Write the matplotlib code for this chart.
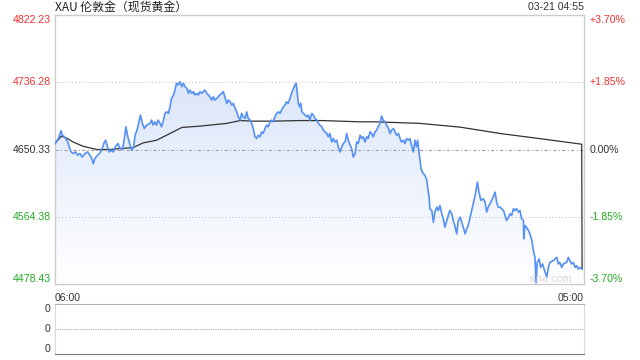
import numpy as np
import matplotlib
matplotlib.use("Agg")
import matplotlib.pyplot as plt
from matplotlib.colors import LinearSegmentedColormap
from matplotlib.path import Path

plt.rcParams['font.family'] = ['Liberation Sans', 'Noto Sans CJK SC', 'DejaVu Sans']

# minutes after 06:00 and price (USD/oz)
minutes = [0, 9, 13, 16, 19, 23, 28, 33, 37, 42, 48, 54, 59, 65, 71, 78, 85, 91, 96, 100,
           104, 111, 117, 123, 129, 132, 136, 141, 146, 152, 158, 164, 170, 176, 181, 185, 190, 196, 200, 205,
           209, 214, 219, 223, 228, 233, 239, 248, 252, 256, 261, 265, 269, 274, 278, 283, 287, 291, 296, 300,
           304, 309, 313, 317, 322, 326, 331, 335, 339, 344, 348, 352, 357, 361, 365, 370, 374, 378, 383, 387,
           391, 396, 400, 404, 409, 413, 417, 422, 426, 430, 435, 439, 443, 448, 452, 457, 461, 465, 470, 474,
           478, 483, 487, 491, 496, 500, 504, 509, 513, 517, 522, 526, 530, 535, 539, 543, 548, 552, 556, 561,
           565, 569, 574, 578, 583, 587, 591, 596, 600, 604, 608, 613, 617, 622, 626, 629, 631, 635, 638, 641,
           644, 648, 652, 657, 661, 665, 670, 674, 678, 683, 687, 691, 696, 700, 704, 709, 713, 717, 722, 726,
           730, 735, 739, 743, 748, 752, 757, 761, 765, 770, 774, 778, 783, 787, 791, 796, 800, 804, 809, 813,
           817, 822, 826, 830, 835, 839, 843, 848, 852, 856, 861, 865, 870, 874, 878, 883, 887, 891, 896, 900,
           904, 909, 913, 917, 922, 926, 930, 935, 939, 943, 946, 950, 955, 958, 961, 965, 970, 972, 976, 978,
           983, 987, 991, 996, 1000, 1004, 1009, 1013, 1017, 1022, 1026, 1030, 1035, 1039, 1043, 1048, 1052, 1057, 1061, 1065,
           1070, 1074, 1078, 1083, 1087, 1091, 1096, 1102, 1106, 1111, 1117, 1122, 1126, 1130, 1135, 1139, 1143, 1148, 1152, 1156,
           1161, 1165, 1170, 1174, 1178, 1183, 1187, 1191, 1196, 1200, 1204, 1209, 1213, 1217, 1222, 1223, 1226, 1230, 1235, 1239,
           1244, 1248, 1252, 1255, 1258, 1263, 1267, 1272, 1276, 1283, 1287, 1291, 1300, 1309, 1313, 1317, 1322, 1326, 1335, 1339,
           1343, 1348, 1352, 1357, 1361, 1365, 1370, 1375]
price = [4658.0, 4664.4, 4670.8, 4674.2, 4668.6, 4667.4, 4664.4, 4660.0, 4653.6, 4647.2, 4645.2, 4647.2, 4643.0, 4645.2, 4640.8, 4645.2, 4647.2, 4643.0, 4638.8, 4632.3,
         4638.8, 4643.0, 4645.9, 4651.6, 4660.0, 4662.2, 4655.8, 4647.2, 4649.4, 4647.2, 4654.5, 4658.0, 4651.6, 4650.3, 4664.4, 4679.3, 4666.5, 4655.8, 4649.4, 4653.6,
         4668.6, 4675.1, 4685.7, 4694.3, 4683.7, 4677.2, 4681.5, 4683.7, 4687.9, 4681.5, 4685.7, 4681.5, 4687.9, 4683.7, 4679.3, 4687.9, 4696.5, 4698.5, 4696.5, 4705.0,
         4715.7, 4720.0, 4726.4, 4735.0, 4732.8, 4737.0, 4730.6, 4735.0, 4730.6, 4728.5, 4722.1, 4726.4, 4722.1, 4724.2, 4720.0, 4722.1, 4720.0, 4724.2, 4722.1, 4724.2,
         4726.4, 4722.1, 4720.0, 4717.8, 4713.5, 4717.8, 4713.5, 4715.7, 4717.8, 4720.0, 4722.1, 4724.2, 4717.8, 4709.3, 4713.5, 4711.4, 4707.1, 4709.3, 4702.9, 4698.5,
         4692.1, 4687.9, 4696.5, 4692.1, 4690.1, 4698.5, 4690.1, 4687.9, 4683.7, 4677.2, 4666.5, 4664.4, 4668.6, 4666.5, 4672.9, 4670.8, 4677.2, 4681.5, 4679.3, 4685.7,
         4687.9, 4685.7, 4692.1, 4696.5, 4698.5, 4696.5, 4700.7, 4705.0, 4707.1, 4711.4, 4709.3, 4715.7, 4722.1, 4728.5, 4732.8, 4735.0, 4726.4, 4709.3, 4705.0, 4709.3,
         4698.5, 4696.5, 4694.3, 4692.1, 4694.3, 4687.9, 4696.5, 4694.3, 4690.1, 4687.9, 4683.7, 4681.5, 4679.3, 4675.1, 4672.9, 4670.8, 4666.5, 4670.8, 4660.0, 4664.4,
         4660.0, 4662.2, 4653.6, 4647.2, 4653.6, 4658.0, 4660.0, 4670.8, 4662.2, 4655.8, 4651.6, 4640.8, 4645.2, 4660.0, 4658.0, 4668.6, 4664.4, 4666.5, 4660.0, 4666.5,
         4664.4, 4672.9, 4670.8, 4666.5, 4672.9, 4675.1, 4679.3, 4683.7, 4693.0, 4687.9, 4685.7, 4681.5, 4677.2, 4670.8, 4675.1, 4677.2, 4672.9, 4668.6, 4670.8, 4664.4,
         4660.0, 4662.2, 4658.0, 4664.4, 4662.2, 4664.4, 4655.8, 4647.2, 4662.2, 4653.6, 4662.2, 4645.2, 4625.9, 4621.6, 4619.5, 4617.3, 4610.9, 4602.3, 4589.5, 4574.6,
         4572.4, 4557.4, 4570.3, 4576.7, 4572.4, 4578.8, 4568.2, 4561.8, 4551.0, 4559.6, 4566.0, 4572.4, 4568.2, 4559.6, 4553.2, 4542.5, 4559.6, 4563.8, 4557.4, 4551.0,
         4542.5, 4549.0, 4553.2, 4563.8, 4572.4, 4581.0, 4591.7, 4608.7, 4595.9, 4585.3, 4587.4, 4583.1, 4570.3, 4576.7, 4581.0, 4585.3, 4589.5, 4595.9, 4583.1, 4576.7,
         4576.7, 4574.6, 4572.4, 4566.0, 4559.6, 4563.8, 4568.2, 4566.0, 4574.6, 4572.4, 4574.6, 4570.3, 4572.4, 4561.8, 4559.6, 4536.1, 4553.2, 4551.0, 4546.8, 4542.5,
         4534.0, 4521.1, 4512.5, 4480.0, 4506.1, 4510.5, 4499.7, 4504.1, 4497.6, 4486.9, 4499.7, 4506.1, 4508.3, 4512.5, 4504.1, 4506.1, 4499.7, 4504.1, 4506.1, 4512.5,
         4508.3, 4504.1, 4506.1, 4499.7, 4501.9, 4497.6, 4499.7, 4497.6]

# average price line
avg_minutes = [0, 17, 31, 47, 73, 109, 143, 170, 203, 230, 265, 291, 331, 378, 448, 483,
               517, 569, 639, 699, 796, 835, 952, 1057, 1161, 1265, 1374, 1375]
avg_price = [4658.0, 4667.4, 4664.8, 4660.0, 4654.5, 4650.3, 4650.3, 4651.6, 4652.6, 4658.8, 4662.2, 4668.6, 4678.5, 4680.2, 4683.7, 4687.3,
             4686.6, 4686.6, 4687.3, 4687.3, 4685.7, 4685.7, 4683.7, 4678.9, 4670.8, 4664.2, 4657.1, 4497.6]

prev_close = 4650.33
y_levels = [4822.23, 4736.28, 4650.33, 4564.38, 4478.43]
pct_labels = ['+3.70%', '+1.85%', '0.00%', '-1.85%', '-3.70%']
level_colors = ['#f0302f', '#f0302f', '#333333', '#22aa22', '#22aa22']

fig = plt.figure(figsize=(6.4, 3.6), dpi=100)
ax = fig.add_axes([55 / 640, 1 - 284 / 360, 529 / 640, 269 / 360])
ylo, yhi = y_levels[-1], y_levels[0]
ax.set_xlim(0, 1380)
ax.set_ylim(ylo, yhi)

# gradient fill under the price line
verts = [(minutes[0], ylo)] + list(zip(minutes, price)) + [(minutes[-1], ylo)]
clip = Path(verts)
cmap = LinearSegmentedColormap.from_list('g', ['#ffffff', '#d0def8'])
grad = np.linspace(0, 1, 256).reshape(-1, 1)
im = ax.imshow(grad, extent=[0, 1380, ylo, yhi], origin='lower', aspect='auto', cmap=cmap, zorder=1)
im.set_clip_path(clip, transform=ax.transData)

for lv in [y_levels[1], y_levels[3]]:
    ax.axhline(lv, color='#c8c8c8', lw=0.8, ls=(0, (1, 2)), zorder=2)
ax.axhline(prev_close, color='#a0a0a0', lw=0.8, ls=(0, (3, 2, 1, 2)), zorder=2)

ax.plot(minutes, price, color='#5590f5', lw=1.2, zorder=4)
ax.plot(avg_minutes, avg_price, color='#333333', lw=0.9, zorder=3)

ax.set_xticks([])
ax.set_yticks([])
for s in ax.spines.values():
    s.set_color('#cccccc')
    s.set_linewidth(1)

ytr = ax.get_yaxis_transform()
vas = ['top', 'center', 'center', 'center', 'bottom']
for lv, pl, c, va in zip(y_levels, pct_labels, level_colors, vas):
    ax.text(-0.008, lv, f'{lv:.2f}', transform=ytr, ha='right', va=va, fontsize=7.6, color=c)
    ax.text(1.01, lv, pl, transform=ytr, ha='left', va=va, fontsize=7.6, color=c)

ax.text(0.0, -0.035, '06:00', transform=ax.transAxes, ha='left', va='top', fontsize=7.6, color='#333333')
ax.text(1.0, -0.035, '05:00', transform=ax.transAxes, ha='right', va='top', fontsize=7.6, color='#333333')
ax.text(0.979, 0.0, 'sina.com', transform=ax.transAxes, ha='right', va='bottom', fontsize=7.8, color='#d6d6d6', zorder=5)

fig.text(55 / 640, 1 - 7 / 360, 'XAU 伦敦金（现货黄金）', ha='left', va='center', fontsize=8.6,
         color='#222222', family=['Noto Sans CJK SC', 'DejaVu Sans'])
fig.text(584 / 640, 1 - 7 / 360, '03-21 04:55', ha='right', va='center', fontsize=7.6, color='#333333')

# volume panel (empty)
ax2 = fig.add_axes([55 / 640, 1 - 354 / 360, 529 / 640, 50 / 360])
ax2.set_xlim(0, 1380)
ax2.set_ylim(0, 1)
ax2.set_xticks([])
ax2.set_yticks([])
ax2.spines['top'].set_linestyle((0, (1, 1)))
ax2.spines['top'].set_color('#b0b0b0')
ax2.spines['left'].set_color('#d8d8d8')
ax2.spines['right'].set_color('#d8d8d8')
ax2.spines['bottom'].set_color('#777777')
ax2.axhline(0.5, color='#b0b0b0', lw=0.8, ls=(0, (1, 1)))
for yv, va in zip([1.0, 0.5, 0.0], ['top', 'center', 'bottom']):
    ax2.text(-0.008, yv, '0', transform=ax2.get_yaxis_transform(), ha='right', va=va, fontsize=7.6, color='#333333')

fig.savefig('out.png', dpi=100)
